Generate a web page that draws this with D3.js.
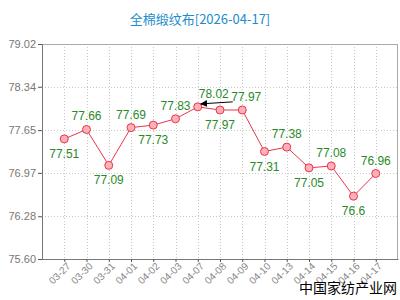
<!DOCTYPE html>
<html>
<head>
<meta charset="utf-8">
<script src="https://cdn.jsdelivr.net/npm/d3@7"></script>
<style>
  body { margin: 0; background: #fff; }
  svg { display: block; }
</style>
</head>
<body>
<svg id="chart" width="400" height="300"></svg>
<script>
var dates = ['03-27','03-30','03-31','04-01','04-02','04-03','04-07','04-08','04-09','04-10','04-13','04-14','04-15','04-16','04-17'];
var prices = [77.51, 77.66, 77.09, 77.69, 77.73, 77.83, 78.02, 77.97, 77.97, 77.31, 77.38, 77.05, 77.08, 76.6, 76.96];
// label above (1) or below (0) the point
var labelUp = [0, 1, 0, 1, 0, 1, 1, 0, 1, 0, 1, 0, 1, 0, 1];
var yTicks = [75.60, 76.28, 76.97, 77.65, 78.34, 79.02];

var margin = {top: 44, right: 2, bottom: 41, left: 42},
  width = 400 - margin.left - margin.right,
  height = 300 - margin.top - margin.bottom;

var svg = d3.select('#chart');
var g = svg.append('g').attr('transform', 'translate(' + margin.left + ',' + margin.top + ')');

var x = d3.scalePoint().domain(dates).range([0, width]).padding(1);
var y = d3.scaleLinear().domain([75.60, 79.02]).range([height, 0]);

svg.append('text')
  .attr('x', 200).attr('y', 24)
  .attr('text-anchor', 'middle')
  .attr('fill', '#1b8ccc')
  .style('font', '13px "Noto Sans CJK SC", sans-serif')
  .text('全棉缎纹布[2026-04-17]');

// grid
g.selectAll('.hgrid').data(yTicks.slice(1, -1)).enter().append('line')
  .attr('x1', 0).attr('x2', width)
  .attr('y1', function(d){ return Math.round(y(d)) + 0.5; })
  .attr('y2', function(d){ return Math.round(y(d)) + 0.5; })
  .attr('stroke', '#c8c8c8').attr('stroke-dasharray', '1,2');

g.selectAll('.vgrid').data(dates).enter().append('line')
  .attr('x1', function(d){ return Math.round(x(d)) + 0.5; })
  .attr('x2', function(d){ return Math.round(x(d)) + 0.5; })
  .attr('y1', 0).attr('y2', height)
  .attr('stroke', '#c8c8c8').attr('stroke-dasharray', '1,2');

// frame
g.append('rect')
  .attr('x', 0.5).attr('y', 0.5)
  .attr('width', width - 1).attr('height', height)
  .attr('fill', 'none').attr('stroke', '#aaa');

var yAxis = g.append('g')
  .call(d3.axisLeft(y).tickValues(yTicks).tickFormat(d3.format('.2f')).tickSize(4).tickPadding(2));
yAxis.select('.domain').attr('stroke', '#777');
yAxis.selectAll('.tick line').attr('stroke', '#555');
yAxis.selectAll('text').attr('fill', '#777').style('font', '11px "Liberation Sans", Arial, sans-serif');

var xAxis = g.append('g')
  .attr('transform', 'translate(0,' + height + ')')
  .call(d3.axisBottom(x).tickSize(3).tickSizeOuter(0).tickPadding(2));
xAxis.select('.domain').attr('stroke', '#777');
xAxis.selectAll('.tick line').attr('stroke', '#555');
xAxis.selectAll('text')
  .attr('fill', '#888')
  .style('font', '10px "Liberation Sans", Arial, sans-serif')
  .attr('text-anchor', 'end')
  .attr('dx', '-0.1em').attr('dy', '0.5em')
  .attr('transform', 'rotate(-45)');

var line = d3.line()
  .x(function(d, i){ return x(dates[i]); })
  .y(function(d){ return y(d); });

g.append('path').datum(prices)
  .attr('d', line)
  .attr('fill', 'none')
  .attr('stroke', '#e8364a')
  .attr('stroke-width', 1);

g.selectAll('.pt').data(prices).enter().append('circle')
  .attr('cx', function(d, i){ return x(dates[i]); })
  .attr('cy', function(d){ return y(d); })
  .attr('r', 4)
  .attr('fill', '#ffb0b8')
  .attr('stroke', '#e8364a');

g.selectAll('.lbl').data(prices).enter().append('text')
  .attr('x', function(d, i){ return x(dates[i]) + (i === 6 ? 16 : i === 8 ? 4 : 0); })
  .attr('y', function(d, i){ return y(d) + (labelUp[i] ? -9 : 19); })
  .attr('text-anchor', 'middle')
  .attr('fill', '#2a8a2a')
  .style('font', '12px "Liberation Sans", Arial, sans-serif')
  .text(function(d){ return d; });

// arrow annotation on the high point
svg.append('defs').append('marker')
  .attr('id', 'arr').attr('viewBox', '0 0 10 10')
  .attr('refX', 9).attr('refY', 5)
  .attr('markerWidth', 7).attr('markerHeight', 7)
  .attr('orient', 'auto')
  .append('path').attr('d', 'M0,0L10,5L0,10z').attr('fill', '#000');

var hx = x(dates[6]), hy = y(prices[6]);
g.append('line')
  .attr('x1', hx + 35).attr('y1', hy - 5)
  .attr('x2', hx + 3).attr('y2', hy - 3)
  .attr('stroke', '#000').attr('stroke-width', 1)
  .attr('marker-end', 'url(#arr)');

svg.append('text')
  .attr('x', 397).attr('y', 293)
  .attr('text-anchor', 'end')
  .attr('fill', '#000')
  .style('font', '14px "Noto Sans CJK SC", sans-serif')
  .text('中国家纺产业网');
</script>
</body>
</html>
